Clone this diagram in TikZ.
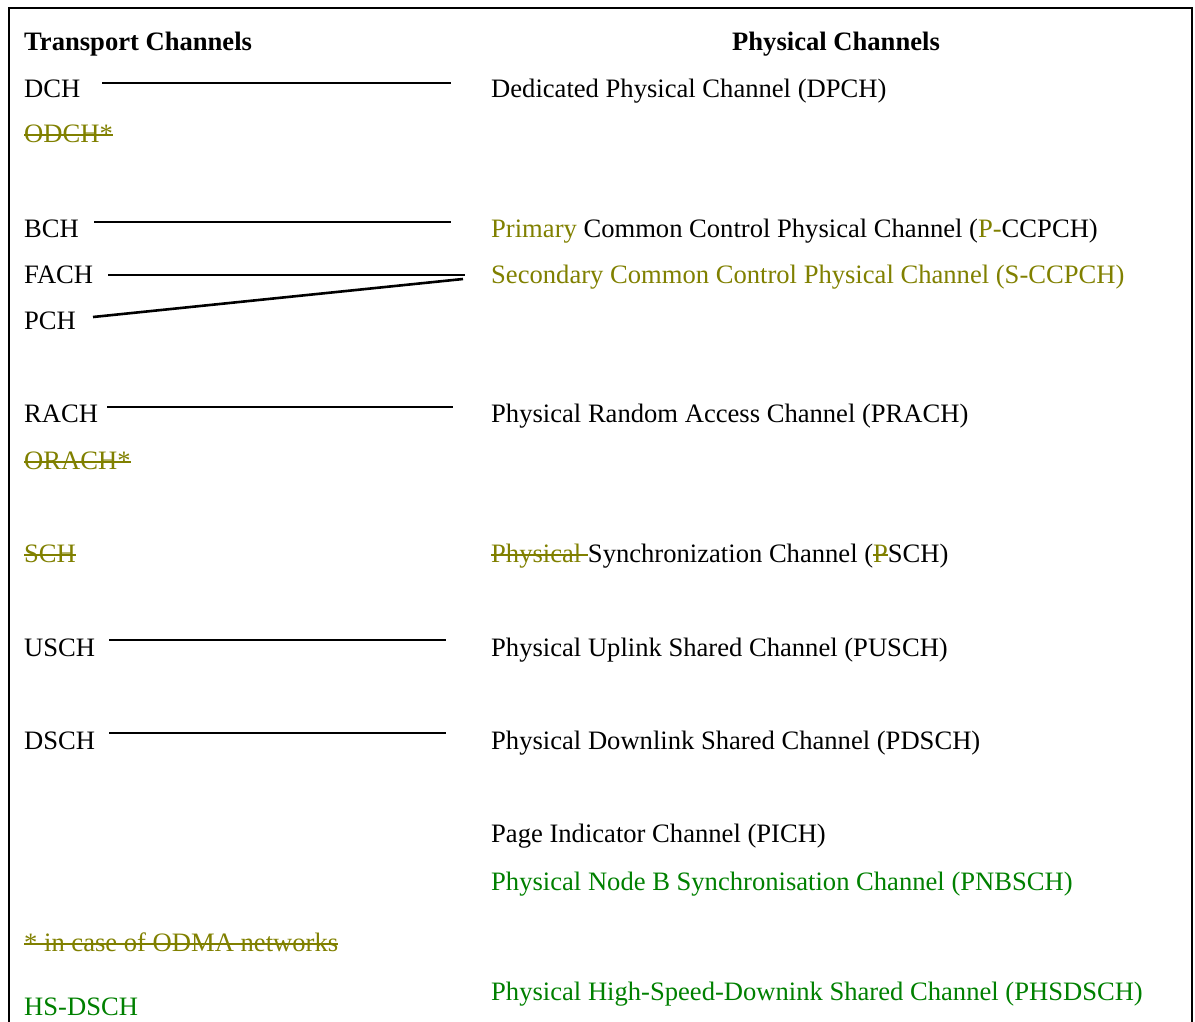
\documentclass[tikz,border=0pt]{standalone}
\usepackage{fontspec}
\setmainfont{Liberation Serif}
\definecolor{tcolive}{RGB}{128,128,0}
\definecolor{tcgreen}{RGB}{0,128,0}
\newsavebox{\tcstrikebox}
\newcommand{\tcstrike}[1]{\sbox{\tcstrikebox}{#1}\rlap{\rule[0.24em]{\wd\tcstrikebox}{1.8pt}}\usebox{\tcstrikebox}}
\begin{document}
\begin{tikzpicture}[x=1pt,y=-1pt,
  lbl/.style={anchor=base west, inner sep=0pt, font=\fontsize{26.6}{30}\selectfont},
  hdr/.style={lbl, font=\fontsize{26.6}{30}\selectfont\bfseries},
  link/.style={line width=2.6pt},
  frame/.style={line width=2.2pt}]
\useasboundingbox (0,0) rectangle (1195,1021);
\draw[frame] (9,1022) -- (9,8) -- (1192,8) -- (1192,1022);

% headers
\node[hdr] (th) at (24,50) {Transport Channels};
\node[hdr] (ph) at (732,50) {Physical Channels};

% transport channels
\node[lbl] (dch) at (24,97) {DCH};
\node[lbl, text=tcolive] (odch) at (24,142) {\tcstrike{ODCH*}};
\node[lbl] (bch) at (24,237) {BCH};
\node[lbl] (fach) at (24,283) {FACH};
\node[lbl] (pch) at (24,329) {PCH};
\node[lbl] (rach) at (24,422) {RACH};
\node[lbl, text=tcolive] (orach) at (24,469) {\tcstrike{ORACH*}};
\node[lbl, text=tcolive] (sch) at (24,562) {\tcstrike{SCH}};
\node[lbl] (usch) at (24,656) {USCH};
\node[lbl] (dsch) at (24,749) {DSCH};
\node[lbl, text=tcolive] (odma) at (24,951) {\tcstrike{* in case of ODMA networks}};
\node[lbl, text=tcgreen] (hsdsch) at (24,1015) {HS-DSCH};

% physical channels
\node[lbl] (dpch) at (491,97) {Dedicated Physical Channel (DPCH)};
\node[lbl] (pccpch) at (491,237) {{\color{tcolive}Primary} Common Control Physical Channel ({\color{tcolive}P-}CCPCH)};
\node[lbl, text=tcolive] (sccpch) at (491,283) {Secondary Common Control Physical Channel (S-CCPCH)};
\node[lbl] (prach) at (491,422) {Physical Random Access Channel (PRACH)};
\node[lbl] (psch) at (491,562) {{\color{tcolive}\tcstrike{Physical\ }}Synchronization Channel ({\color{tcolive}\tcstrike{P}}SCH)};
\node[lbl] (pusch) at (491,656) {Physical Uplink Shared Channel (PUSCH)};
\node[lbl] (pdsch) at (491,749) {Physical Downlink Shared Channel (PDSCH)};
\node[lbl] (pich) at (491,842) {Page Indicator Channel (PICH)};
\node[lbl, text=tcgreen] (pnbsch) at (491,890) {Physical Node B Synchronisation Channel (PNBSCH)};
\node[lbl, text=tcgreen] (phsdsch) at (491,1000) {Physical High-Speed-Downink Shared Channel (PHSDSCH)};

% connector end points
\coordinate (dchA) at (102,83);   \coordinate (dchB) at (451,83);
\coordinate (bchA) at (94,222);   \coordinate (bchB) at (451,222);
\coordinate (fachA) at (108,275); \coordinate (fachB) at (465,275);
\coordinate (pchA) at (93,317);   \coordinate (pchB) at (463,279);
\coordinate (rachA) at (107,407); \coordinate (rachB) at (453,407);
\coordinate (uschA) at (109,640); \coordinate (uschB) at (446,640);
\coordinate (dschA) at (109,733); \coordinate (dschB) at (446,733);

\draw[link] (dchA) -- (dchB);
\draw[link] (bchA) -- (bchB);
\draw[link] (fachA) -- (fachB);
\draw[link] (pchA) -- (pchB);
\draw[link] (rachA) -- (rachB);
\draw[link] (uschA) -- (uschB);
\draw[link] (dschA) -- (dschB);
\end{tikzpicture}
\end{document}
